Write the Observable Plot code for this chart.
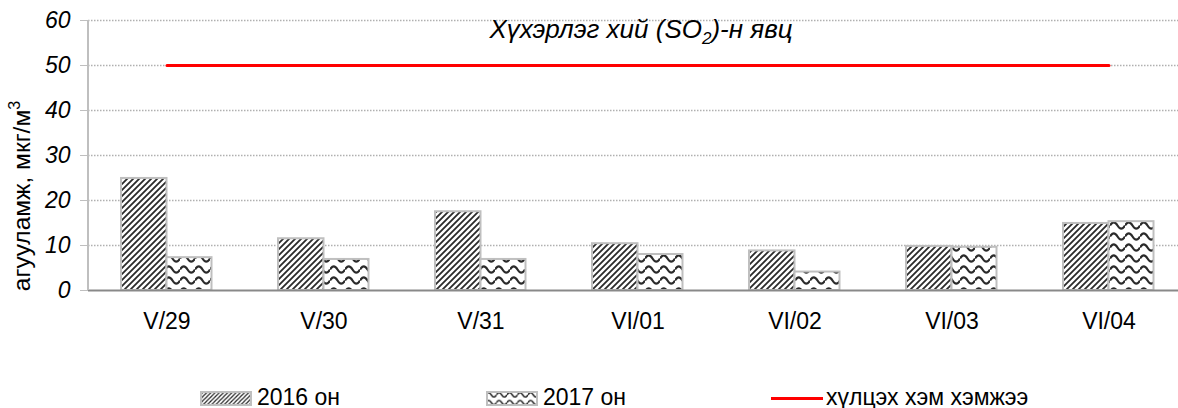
<!DOCTYPE html>
<html>
<head>
<meta charset="utf-8">
<script src="https://cdn.jsdelivr.net/npm/d3@7"></script>
<script src="https://cdn.jsdelivr.net/npm/@observablehq/plot@0.6"></script>
<style>
  html, body { margin: 0; padding: 0; background: #fff; width: 1178px; height: 408px; overflow: hidden; }
  #wrap { position: relative; width: 1178px; height: 408px; font-family: "Liberation Sans", Arial, sans-serif; }
  #chart svg { display: block; }
  [aria-label="y-axis tick label"] { fill: #000; }
  #legend { position: absolute; left: 0; top: 345px; width: 1178px; height: 63px; }
  .li { position: absolute; font-size: 23px; color: #000; white-space: nowrap; line-height: 1; }
</style>
</head>
<body>
<div id="wrap">
  <div id="chart"></div>
  <div id="legend"></div>
</div>
<script>
// ---- data ----
const dates = ["V/29", "V/30", "V/31", "VI/01", "VI/02", "VI/03", "VI/04"];
const so2_2016 = [24.9, 11.5, 17.5, 10.4, 8.8, 9.8, 14.9];
const so2_2017 = [7.3, 6.9, 6.9, 8.0, 4.1, 9.6, 15.3];
const limitValue = 50;
const yTicks = [0, 10, 20, 30, 40, 50, 60];
const seriesNames = ["2016 он", "2017 он", "хүлцэх хэм хэмжээ"];
const titleParts = ["Хүхэрлэг хий (SO", "2", ")-н явц"];
const yLabelParts = ["агууламж, мкг/м", "3"];

const d2016 = dates.map((d, i) => ({date: d, value: so2_2016[i]}));
const d2017 = dates.map((d, i) => ({date: d, value: so2_2017[i]}));
const dLimit = dates.map(d => ({date: d, value: limitValue}));

const chart = Plot.plot({
  width: 1178,
  height: 345,
  marginLeft: 88,
  marginRight: 0,
  marginTop: 20,
  marginBottom: 55,
  x: {type: "band", domain: dates, range: [88, 1187], padding: 0},
  y: {domain: [0, 60], range: [290, 20]},
  style: {fontFamily: "'Liberation Sans', Arial, sans-serif", color: "#000", background: "transparent", overflow: "visible"},
  marks: [
    Plot.ruleY(yTicks.slice(1), {stroke: "#b0b0b0", strokeDasharray: "1.5,1.5", strokeWidth: 1.3}),
    Plot.barY(d2016, {x: "date", y: "value", fill: "url(#pat2016)", stroke: "#bfbfbf", strokeWidth: 2, insetLeft: 33, insetRight: 78.5}),
    Plot.barY(d2017, {x: "date", y: "value", fill: "url(#pat2017)", stroke: "#bfbfbf", strokeWidth: 2, insetLeft: 78.5, insetRight: 33.5}),
    Plot.ruleY([0], {stroke: "#898989", strokeWidth: 2}),
    Plot.lineY(dLimit, {x: "date", y: "value", stroke: "#ff0000", strokeWidth: 3}),
    Plot.axisY({ticks: yTicks, tickSize: 8, tickPadding: 10, fontSize: 23, fontStyle: "italic", color: "#bfbfbf", label: null}),
    Plot.axisX({tickSize: 0, tickPadding: 22, fontSize: 23, label: null})
  ]
});
document.getElementById("chart").appendChild(chart);

const svg = d3.select(chart);
svg.selectAll("text").attr("font-weight", "normal");
const defs = svg.insert("defs", ":first-child");
function addPatterns(defs, id16, id17, s) {
  const p1 = defs.append("pattern").attr("id", id16).attr("patternUnits", "userSpaceOnUse")
    .attr("width", 6 * s).attr("height", 6 * s);
  p1.append("rect").attr("width", 6 * s).attr("height", 6 * s).attr("fill", "#fff");
  p1.append("path").attr("d", `M${-1*s},${1*s} l${2*s},${-2*s} M0,${6*s} l${6*s},${-6*s} M${5*s},${7*s} l${2*s},${-2*s}`)
    .attr("stroke", "#2a2a2a").attr("stroke-width", 1.8 * s);
  const p2 = defs.append("pattern").attr("id", id17).attr("patternUnits", "userSpaceOnUse")
    .attr("width", 15 * s).attr("height", 11 * s);
  p2.append("rect").attr("width", 15 * s).attr("height", 11 * s).attr("fill", "#fff");
  p2.append("path").attr("d", `M0,${5.5*s} Q${3.75*s},${-0.7*s} ${7.5*s},${5.5*s} T${15*s},${5.5*s}`)
    .attr("fill", "none").attr("stroke", "#2a2a2a").attr("stroke-width", 2.2 * s);
}
addPatterns(defs, "pat2016", "pat2017", 1);

// axis line
const y = chart.scale("y");
const x = chart.scale("x");
svg.append("line")
  .attr("x1", x.range[0]).attr("x2", x.range[0])
  .attr("y1", y.apply(0)).attr("y2", y.apply(60))
  .attr("stroke", "#bfbfbf").attr("stroke-width", 2);

// title inside plot
const t = svg.append("text")
  .attr("x", 641).attr("y", 38)
  .attr("text-anchor", "middle")
  .attr("font-size", 26).attr("font-style", "italic")
  .attr("font-family", "'Liberation Sans', Arial, sans-serif")
  .attr("fill", "#000");
t.append("tspan").text(titleParts[0]);
t.append("tspan").attr("font-size", 17).attr("dy", 6).text(titleParts[1]);
t.append("tspan").attr("dy", -6).text(titleParts[2]);

// y label
const yl = svg.append("text")
  .attr("transform", "translate(30,196) rotate(-90)")
  .attr("text-anchor", "middle")
  .attr("font-size", 24.5)
  .attr("font-family", "'Liberation Sans', Arial, sans-serif")
  .attr("fill", "#000");
yl.append("tspan").text(yLabelParts[0]);
yl.append("tspan").attr("font-size", 16).attr("dy", -10).text(yLabelParts[1]);

// legend
const leg = d3.select("#legend");
function swatch(left, kind) {
  const s = leg.append("svg").style("position", "absolute").style("left", left + "px").style("top", "46px")
    .attr("width", 52).attr("height", 15);
  const dd = s.append("defs");
  addPatterns(dd, "lp16" + kind, "lp17" + kind, 0.7);
  s.append("rect").attr("x", 1).attr("y", 1).attr("width", 50).attr("height", 13)
    .attr("fill", kind === 0 ? "url(#lp160)" : "url(#lp171)")
    .attr("stroke", "#bfbfbf").attr("stroke-width", 2);
}
swatch(200, 0);
leg.append("div").attr("class", "li").style("left", "257px").style("top", "41px").text(seriesNames[0]);
swatch(486, 1);
leg.append("div").attr("class", "li").style("left", "543px").style("top", "41px").text(seriesNames[1]);
leg.append("div").style("position", "absolute").style("left", "771px").style("top", "52px")
  .style("width", "52px").style("height", "3px").style("background", "#ff0000");
leg.append("div").attr("class", "li").style("left", "826px").style("top", "41px").text(seriesNames[2]);
</script>
</body>
</html>
